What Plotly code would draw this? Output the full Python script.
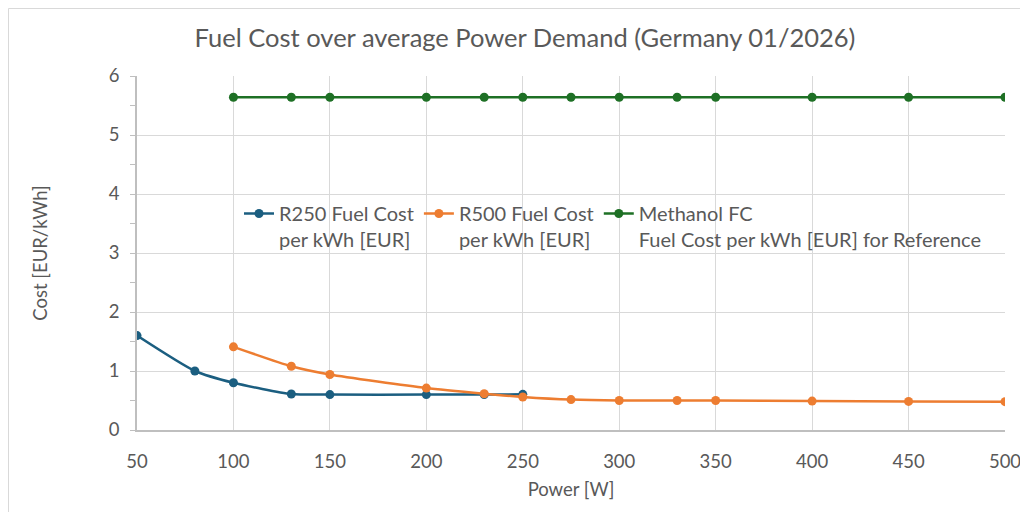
import plotly.graph_objects as go

power_r250 = [50, 80, 100, 130, 150, 200, 230, 250]
cost_r250 = [1.60, 1.00, 0.80, 0.61, 0.60, 0.60, 0.60, 0.605]

power_r500 = [100, 130, 150, 200, 230, 250, 275, 300, 330, 350, 400, 450, 500]
cost_r500 = [1.41, 1.08, 0.94, 0.71, 0.615, 0.56, 0.515, 0.50, 0.50, 0.50, 0.49, 0.485, 0.48]

power_meoh = [100, 130, 150, 200, 230, 250, 275, 300, 330, 350, 400, 450, 500]
cost_meoh = [5.64] * len(power_meoh)

names = ["R250 Fuel Cost<br>per kWh [EUR]",
         "R500 Fuel Cost<br>per kWh [EUR]",
         "Methanol FC<br>Fuel Cost per kWh [EUR] for Reference"]
colors = ["#1b5e80", "#ed7d31", "#1e7025"]

FONT = "Lato"
GRAY = "#595959"

# page body has an 8px margin: figure coordinates are screen coordinates - 8
W, H = 1020, 504
L, R, T, B = 129, 23, 68, 82
PW, PH = W - L - R, H - T - B

fig = go.Figure()
for xs, ys, nm, c in [(power_r250, cost_r250, names[0], colors[0]),
                      (power_r500, cost_r500, names[1], colors[1]),
                      (power_meoh, cost_meoh, names[2], colors[2])]:
    fig.add_trace(go.Scatter(x=xs, y=ys, name=nm, mode="lines+markers",
                             line=dict(color=c, width=2.5, shape="spline", smoothing=0.6),
                             marker=dict(color=c, size=9)))

fig.update_layout(
    width=W, height=H,
    margin=dict(l=L, r=R, t=T, b=B, autoexpand=False),
    paper_bgcolor="white", plot_bgcolor="white",
    font=dict(family=FONT, color=GRAY, size=18),
    title=dict(text="Fuel Cost over average Power Demand (Germany 01/2026)",
               x=517 / W, xanchor="center", y=1 - 30 / H, yanchor="middle",
               font=dict(size=25.5, color=GRAY, family=FONT)),
    xaxis=dict(range=[50, 500], tickvals=list(range(50, 501, 50)),
               showgrid=True, gridcolor="#d9d9d9", gridwidth=1,
               zeroline=False, showline=True, linecolor="#bfbfbf", linewidth=1.5,
               ticks="", ticklabelstandoff=14,
               title=dict(text="Power [W]", standoff=12, font=dict(size=18.5, color=GRAY)),
               tickfont=dict(size=18.5, color=GRAY)),
    yaxis=dict(range=[0, 6], dtick=1, showgrid=True, gridcolor="#d9d9d9", gridwidth=1,
               zeroline=False, showline=True, linecolor="#bfbfbf", linewidth=1.5,
               ticks="outside", ticklen=5, tickcolor="#bfbfbf",
               minor=dict(dtick=0.5, ticks="outside", ticklen=5, tickcolor="#bfbfbf", showgrid=False),
               ticklabelstandoff=7,
               title=dict(text="Cost [EUR/kWh]", standoff=56, font=dict(size=18.5, color=GRAY)),
               tickfont=dict(size=18.5, color=GRAY)),
    legend=dict(orientation="h", x=(231 - L) / PW, y=(H - B - 186) / PH,
                xanchor="left", yanchor="top",
                bgcolor="rgba(0,0,0,0)", font=dict(size=20, color=GRAY, family=FONT),
                valign="top", itemwidth=30, tracegroupgap=0),
    showlegend=True,
)

fig.add_shape(type="rect", xref="paper", yref="paper",
              x0=(0.5 - L) / PW, x1=1.2, y0=-0.5, y1=(H - B - 0.5) / PH,
              line=dict(color="#d9d9d9", width=1), fillcolor="rgba(0,0,0,0)", layer="below")

fig.write_html("out.html")
